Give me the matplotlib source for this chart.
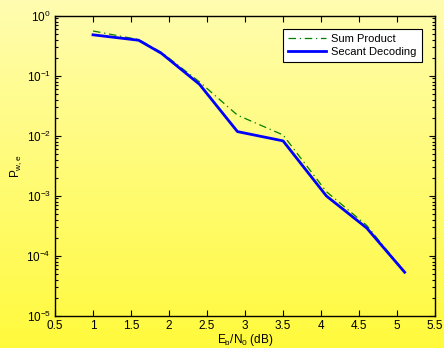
import numpy as np
import matplotlib
matplotlib.use("Agg")
import matplotlib.pyplot as plt
from matplotlib.colors import LinearSegmentedColormap
from matplotlib.ticker import LogLocator, NullFormatter

plt.rcParams['font.family'] = ['Liberation Sans', 'DejaVu Sans']
plt.rcParams['mathtext.fontset'] = 'custom'
plt.rcParams['mathtext.rm'] = 'Liberation Sans'
plt.rcParams['mathtext.it'] = 'Liberation Sans'

# data
ebn0 = [1.0, 1.6, 1.9, 2.4, 2.9, 3.5, 4.07, 4.6, 5.1]
sum_product = [0.556, 0.40, 0.245, 0.079, 0.022, 0.0103, 0.00117, 0.00032, 5.3e-5]
secant = [0.48, 0.39, 0.236, 0.072, 0.0117, 0.0082, 0.00099, 0.00029, 5.3e-5]

fig = plt.figure(figsize=(4.44, 3.48), dpi=100)

# yellow gradient backdrop
bg = fig.add_axes([0, 0, 1, 1], zorder=-1)
cmap = LinearSegmentedColormap.from_list('yel', ['#fffdb0', '#fffa3c'])
grad = np.linspace(0, 1, 256).reshape(-1, 1)
bg.imshow(grad, aspect='auto', cmap=cmap, extent=[0, 1, 0, 1], origin='upper')
bg.axis('off')

ax = fig.add_axes([0.1239, 0.0928, 0.856, 0.8621])
ax.set_facecolor('none')

ax.semilogy(ebn0, sum_product, color='#008000', linestyle=(0, (6, 3, 1, 3)),
            linewidth=0.9, label='Sum Product')
ax.semilogy(ebn0, secant, color='#0000ff', linewidth=2.0, label='Secant Decoding')

ax.set_xlim(0.5, 5.5)
ax.set_ylim(1e-5, 1)
ax.set_xticks([0.5, 1, 1.5, 2, 2.5, 3, 3.5, 4, 4.5, 5, 5.5])
ax.set_xticklabels(['0.5', '1', '1.5', '2', '2.5', '3', '3.5', '4', '4.5', '5', '5.5'])
ax.yaxis.set_major_locator(LogLocator(base=10, numticks=10))
ax.yaxis.set_minor_locator(LogLocator(base=10, subs=np.arange(2, 10), numticks=10))
ax.yaxis.set_minor_formatter(NullFormatter())

ax.tick_params(which='both', direction='in', top=True, right=True, labelsize=8.5,
               width=0.8)
ax.tick_params(axis='x', pad=3)
ax.tick_params(axis='y', pad=3)
ax.tick_params(which='major', length=4)
ax.tick_params(which='minor', length=2)
for s in ax.spines.values():
    s.set_linewidth(1.0)

ax.set_xlabel(r'E$_\mathrm{b}$/N$_\mathrm{0}$ (dB)', fontsize=8.5, labelpad=0)
ax.set_ylabel(r'P$_\mathrm{w,e}$', fontsize=8.5, labelpad=2)

leg = ax.legend(loc='upper right', fontsize=8, frameon=True, fancybox=False,
                edgecolor='black', framealpha=1, borderaxespad=1.2,
                handlelength=3.4, borderpad=0.45, labelspacing=0.25,
                handletextpad=0.5)
leg.get_frame().set_linewidth(0.8)

fig.savefig('out.png', dpi=100)
